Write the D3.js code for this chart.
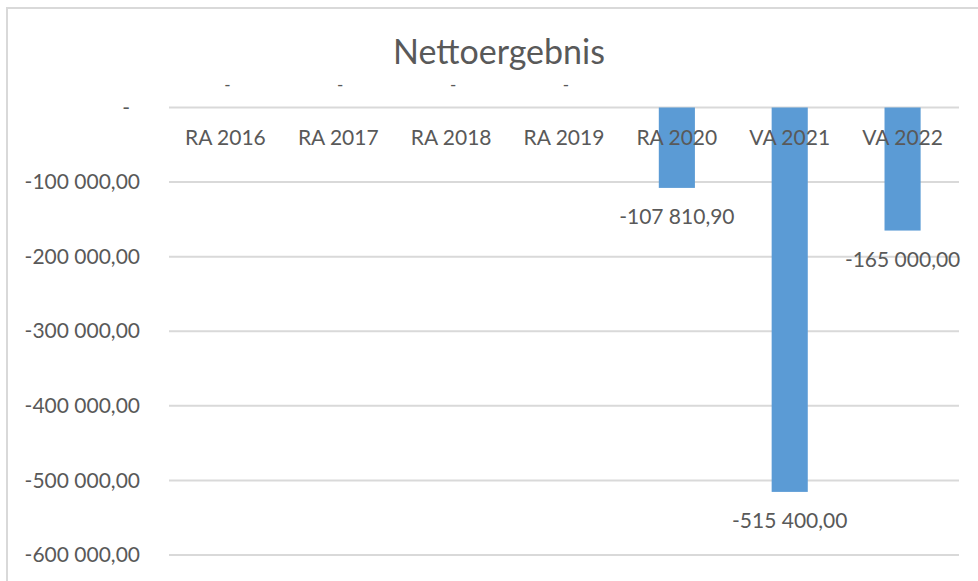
<!DOCTYPE html>
<html>
<head>
<meta charset="utf-8">
<script src="https://cdn.jsdelivr.net/npm/d3@7"></script>
<style>
  body { margin: 0; background: #fff; }
  text { font-family: Lato, "Open Sans", sans-serif; fill: #595959; }
</style>
</head>
<body>
<svg></svg>
<script>
// chart data
let categories = ['RA 2016', 'RA 2017', 'RA 2018', 'RA 2019', 'RA 2020', 'VA 2021', 'VA 2022'];
let values = [0, 0, 0, 0, -107810.90, -515400.00, -165000.00];
let yTicks = [0, -100000, -200000, -300000, -400000, -500000, -600000];

let width = 978;
let height = 581;

let svg = d3.select('svg')
    .attr('width', width)
    .attr('height', height);

// outer chart border (cut off on right and bottom)
svg.append('rect')
    .attr('x', 7)
    .attr('y', 8)
    .attr('width', 990)
    .attr('height', 600)
    .attr('fill', 'none')
    .attr('stroke', '#d9d9d9')
    .attr('stroke-width', 2);

// title
svg.append('text')
    .attr('x', 499)
    .attr('y', 64)
    .attr('text-anchor', 'middle')
    .style('font-size', '34px')
    .style('font-weight', 400)
    .text('Nettoergebnis');

let xScale = d3.scaleBand()
    .domain(categories)
    .range([169, 959])
    .paddingInner(0.68)
    .paddingOuter(0.34);

let yScale = d3.scaleLinear()
    .domain([-600000, 0])
    .range([555, 107.5]);

let locale = d3.formatLocale({ decimal: ',', thousands: ' ', grouping: [3], currency: ['', ''], minus: '-' });
let fmtNum = locale.format(',.2f');
function fmt(v) { return v === 0 ? '-' : fmtNum(v); }

// gridlines
let grid = svg.append('g');
grid.selectAll('line')
    .data(yTicks)
    .enter()
    .append('line')
    .attr('x1', 169)
    .attr('x2', 959)
    .attr('y1', function(d) { return yScale(d); })
    .attr('y2', function(d) { return yScale(d); })
    .attr('stroke', '#d9d9d9')
    .attr('stroke-width', 2);

// y axis labels
let yAxis = d3.axisLeft(yScale)
    .tickValues(yTicks)
    .tickFormat(fmt)
    .tickSize(0)
    .tickPadding(0);
let yG = svg.append('g')
    .attr('transform', 'translate(140, 0)')
    .call(yAxis);
yG.select('.domain').remove();
yG.selectAll('text')
    .style('font-size', '21px')
    .attr('fill', '#595959')
    .attr('font-family', 'Lato, sans-serif')
    .attr('x', function(d) { return d === 0 ? -10 : 0; });

// bars
svg.append('g')
    .selectAll('rect')
    .data(values)
    .enter()
    .append('rect')
    .attr('x', function(d, i) { return xScale(categories[i]); })
    .attr('width', xScale.bandwidth())
    .attr('y', function(d) { return yScale(Math.max(0, d)); })
    .attr('height', function(d) { return Math.abs(yScale(d) - yScale(0)); })
    .attr('fill', '#5b9bd5');

// category labels, next to the zero line
let xAxis = d3.axisBottom(xScale)
    .tickSize(0)
    .tickPadding(0);
let xG = svg.append('g')
    .attr('transform', 'translate(0, 130)')
    .call(xAxis);
xG.select('.domain').remove();
xG.selectAll('text')
    .style('font-size', '21px')
    .attr('fill', '#595959')
    .attr('font-family', 'Lato, sans-serif');

// data labels (zero values show a dash above the zero line)
svg.append('g')
    .selectAll('text')
    .data(values)
    .enter()
    .append('text')
    .attr('x', function(d, i) { return xScale(categories[i]) + xScale.bandwidth() / 2 + (d === 0 ? 2 : 0); })
    .attr('y', function(d) { return d === 0 ? yScale(0) - 17 : yScale(d) + 36; })
    .attr('text-anchor', 'middle')
    .style('font-size', function(d) { return d === 0 ? '17px' : '21px'; })
    .text(fmt);
</script>
</body>
</html>
